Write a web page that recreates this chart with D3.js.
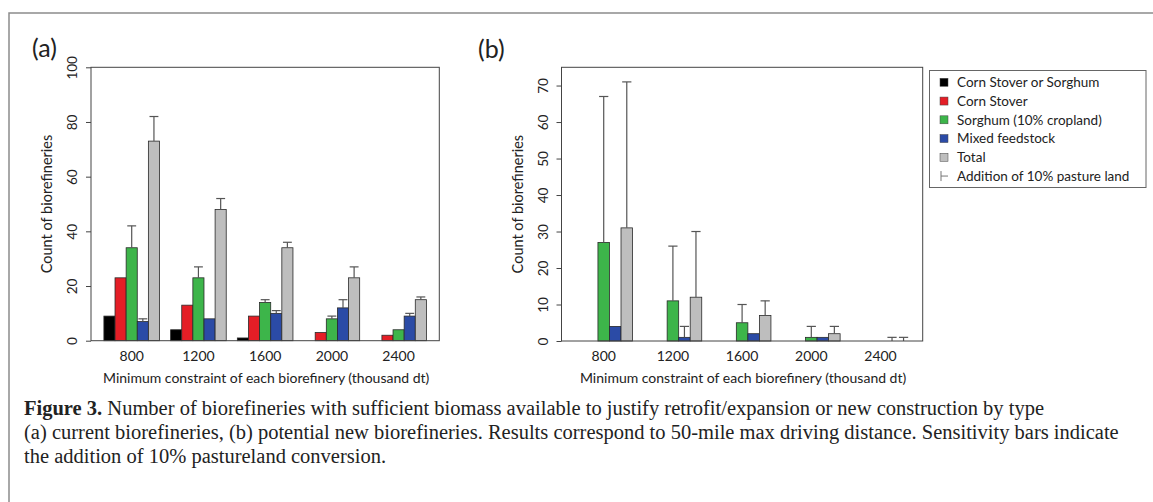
<!DOCTYPE html>
<html>
    <head>
        <meta charset="utf-8"/>
        <script src="https://cdnjs.cloudflare.com/ajax/libs/d3/7.8.5/d3.min.js"></script>
        <style>
            body { margin: 0; background: #fff; }
            svg { display: block; }
        </style>
    </head>
    <body>
        <script>
            // minimum constraint of each biorefinery (thousand dt)
            const categories = ["800", "1200", "1600", "2000", "2400"];
            const seriesKeys = ["Corn Stover or Sorghum", "Corn Stover", "Sorghum (10% cropland)", "Mixed feedstock", "Total"];
            const seriesColors = ["#000000", "#E41E26", "#3DB54A", "#2B4BA6", "#BEBEBE"];

            // (a) current biorefineries
            const currentValues = [
                [9, 4, 1, 0, 0],
                [23, 13, 9, 3, 2],
                [34, 23, 14, 8, 4],
                [7, 8, 10, 12, 9],
                [73, 48, 34, 23, 15]
            ];
            // with 10% pasture land added (null = no bar)
            const currentPasture = [
                [null, null, null, null, null],
                [null, null, null, null, null],
                [42, 27, 15, 9, null],
                [8, null, 11, 15, 10],
                [82, 52, 36, 27, 16]
            ];

            // (b) potential new biorefineries
            const newValues = [
                [0, 0, 0, 0, 0],
                [0, 0, 0, 0, 0],
                [27, 11, 5, 1, 0],
                [4, 1, 2, 1, 0],
                [31, 12, 7, 2, 0]
            ];
            const newPasture = [
                [null, null, null, null, null],
                [null, null, null, null, null],
                [67, 26, 10, 4, null],
                [null, 4, null, null, 1],
                [71, 30, 11, 4, 1]
            ];

            const ticksA = [0, 20, 40, 60, 80, 100];
            const ticksB = [0, 10, 20, 30, 40, 50, 60, 70];

            const width = 1153, height = 502;
            const sans = "Lato, 'Noto Sans', sans-serif";

            const svg = d3.select("body").append("svg")
                .attr("width", width)
                .attr("height", height)
                .attr("viewBox", [0, 0, width, height]);

            // page frame
            svg.append("path")
                .attr("d", "M9,502V13H1153")
                .attr("fill", "none")
                .attr("stroke", "#8c8c8c")
                .attr("stroke-width", 1.5);

            function drawPanel(box, ymax, ticks, values, pasture, tag) {
                const g = svg.append("g");

                const x0 = d3.scaleBand()
                    .domain(categories)
                    .range([box.left, box.right])
                    .paddingInner(1 / 6)
                    .paddingOuter(1.16 / 6);
                const x1 = d3.scaleBand()
                    .domain(seriesKeys)
                    .range([0, x0.bandwidth()]);
                const y = d3.scaleLinear()
                    .domain([0, ymax])
                    .range([box.bottom, box.top]);

                const rows = [];
                seriesKeys.forEach((key, i) => {
                    categories.forEach((cat, j) => {
                        rows.push({key, cat, color: seriesColors[i], v: values[i][j], hi: pasture[i][j]});
                    });
                });

                g.append("g")
                    .selectAll("rect")
                    .data(rows.filter(d => d.v > 0))
                    .join("rect")
                    .attr("x", d => x0(d.cat) + x1(d.key))
                    .attr("y", d => y(d.v))
                    .attr("width", x1.bandwidth())
                    .attr("height", d => y(0) - y(d.v))
                    .attr("fill", d => d.color)
                    .attr("stroke", "#2a2a2a")
                    .attr("stroke-width", 0.8);

                // sensitivity bars
                const cap = x1.bandwidth() * 0.4;
                const err = g.append("g")
                    .attr("stroke", "#555")
                    .attr("stroke-width", 1.2)
                    .selectAll("g")
                    .data(rows.filter(d => d.hi != null))
                    .join("g")
                    .attr("transform", d => `translate(${x0(d.cat) + x1(d.key) + x1.bandwidth() / 2},0)`);
                err.append("line")
                    .attr("y1", d => y(d.v))
                    .attr("y2", d => y(d.hi));
                err.append("line")
                    .attr("x1", -cap)
                    .attr("x2", cap)
                    .attr("y1", d => y(d.hi))
                    .attr("y2", d => y(d.hi));

                // plot box
                g.append("rect")
                    .attr("x", box.left)
                    .attr("y", box.top)
                    .attr("width", box.right - box.left)
                    .attr("height", box.bottom - box.top)
                    .attr("fill", "none")
                    .attr("stroke", "#444")
                    .attr("stroke-width", 1);

                // y axis, labels turned like R
                g.append("g")
                    .attr("transform", `translate(${box.left},0)`)
                    .call(d3.axisLeft(y).tickValues(ticks).tickSize(5).tickSizeOuter(0))
                    .call(a => a.select(".domain").remove())
                    .call(a => a.selectAll("line").attr("stroke", "#444"))
                    .call(a => a.selectAll("text")
                        .attr("transform", "rotate(-90)")
                        .attr("x", 0)
                        .attr("y", -14)
                        .attr("dy", 0)
                        .attr("text-anchor", "middle")
                        .attr("font-family", sans)
                        .attr("font-size", 13.5)
                        .attr("fill", "#222"));

                // x labels at group centres, no axis line
                g.append("g")
                    .attr("transform", `translate(0,${box.bottom})`)
                    .call(d3.axisBottom(x0).tickSize(0).tickPadding(10))
                    .call(a => a.select(".domain").remove())
                    .call(a => a.selectAll("text")
                        .attr("font-family", sans)
                        .attr("font-size", 14)
                        .attr("fill", "#222"));

                g.append("text")
                    .attr("x", (box.left + box.right) / 2 + 1)
                    .attr("y", 383)
                    .attr("text-anchor", "middle")
                    .attr("font-family", sans)
                    .attr("font-size", 14)
                    .attr("fill", "#222")
                    .text("Minimum constraint of each biorefinery (thousand dt)");

                g.append("text")
                    .attr("transform", `translate(${box.left - 39},${(box.top + box.bottom) / 2}) rotate(-90)`)
                    .attr("text-anchor", "middle")
                    .attr("font-family", sans)
                    .attr("font-size", 14.5)
                    .attr("fill", "#222")
                    .text("Count of biorefineries");

                g.append("text")
                    .attr("x", tag.x)
                    .attr("y", tag.y)
                    .attr("font-family", sans)
                    .attr("font-size", 25)
                    .attr("fill", "#222")
                    .text(tag.text);
            }

            drawPanel({left: 91, right: 439.3, top: 67.3, bottom: 340.7}, 100, ticksA,
                currentValues, currentPasture, {x: 32, y: 57, text: "(a)"});
            drawPanel({left: 561.5, right: 922.7, top: 67.3, bottom: 341}, 75, ticksB,
                newValues, newPasture, {x: 478, y: 58, text: "(b)"});

            // legend
            const legend = svg.append("g");
            legend.append("rect")
                .attr("x", 929.5).attr("y", 70.5)
                .attr("width", 216.5).attr("height", 117)
                .attr("fill", "#fff")
                .attr("stroke", "#666");
            const items = legend.selectAll("g.item")
                .data(seriesKeys.concat(["Addition of 10% pasture land"]))
                .join("g")
                .attr("transform", (d, i) => `translate(944,${82.3 + i * 18.75})`);
            items.filter((d, i) => i < seriesKeys.length)
                .append("rect")
                .attr("x", -4).attr("y", -4)
                .attr("width", 8).attr("height", 8)
                .attr("fill", (d, i) => seriesColors[i])
                .attr("stroke", "#444")
                .attr("stroke-width", 0.5);
            items.filter((d, i) => i === seriesKeys.length)
                .append("path")
                .attr("d", "M-3,-5V5M-3,0H4")
                .attr("fill", "none")
                .attr("stroke", "#777")
                .attr("stroke-width", 1);
            items.append("text")
                .attr("x", 13)
                .attr("dy", "0.35em")
                .attr("font-family", sans)
                .attr("font-size", 13.5)
                .attr("fill", "#222")
                .text(d => d);

            // caption
            const serif = "'Liberation Serif', 'DejaVu Serif', serif";
            const caption = svg.append("text")
                .attr("font-family", serif)
                .attr("font-size", 20.5)
                .attr("fill", "#222");
            const line1 = caption.append("tspan").attr("x", 24).attr("y", 415);
            line1.append("tspan").attr("font-weight", "bold").text("Figure 3.");
            line1.append("tspan").text(" Number of biorefineries with sufficient biomass available to justify retrofit/expansion or new construction by type");
            caption.append("tspan").attr("x", 24).attr("y", 439)
                .text("(a) current biorefineries, (b) potential new biorefineries. Results correspond to 50-mile max driving distance. Sensitivity bars indicate");
            caption.append("tspan").attr("x", 24).attr("y", 463)
                .text("the addition of 10% pastureland conversion.");
        </script>
    </body>
</html>
